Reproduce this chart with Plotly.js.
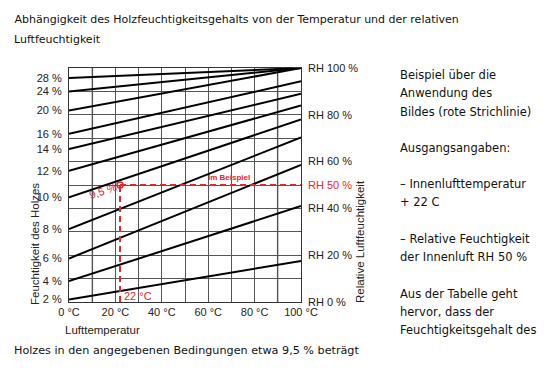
<!DOCTYPE html>
<html>
<head>
<meta charset="utf-8">
<script src="https://cdn.plot.ly/plotly-3.0.1.min.js"></script>
<style>html,body{margin:0;padding:0;background:#fff;}#chart{width:558px;height:380px;}</style>
</head>
<body>
<div id="chart"></div>
<script>
// ---- data ----
const moistureLabels = ['28 %','24 %','20 %','16 %','14 %','12 %','10 %','8 %','6 %','4 %','2 %'];
const tempEnds = [0, 100];
const rhAt0C   = [95.7, 90.0, 81.8, 71.9, 65.4, 56.1, 44.7, 31.2, 18.6, 8.9, 1.1];
const rhAt100C = [100, 100, 100, 94.3, 89.0, 84.0, 78.0, 70.3, 58.6, 41.0, 17.5];
const tempTicks = [0,10,20,30,40,50,60,70,80,90,100];
const tempTickText = ['0 °C','','20 °C','','40 °C','','60 °C','','80 °C','','100 °C'];
const rhTicks = [0,10,20,30,40,50,60,70,80,90,100];
const rhTickText = ['RH 0 %','','RH 20 %','','RH 40 %','<span style="color:#e3262b">RH 50 %</span>','RH 60 %','','RH 80 %','','RH 100 %'];
const exampleTemp = 22, exampleRH = 50, exampleMoisture = '9,5 %';

const RED = '#e3262b';
const FONT = 'Liberation Sans, Arial, sans-serif';
const TFONT = 'DejaVu Sans, Verdana, sans-serif';

const traces = [];
for (let i = 0; i < moistureLabels.length; i++) {
  traces.push({x: tempEnds, y: [rhAt0C[i], rhAt100C[i]], type: 'scatter', mode: 'lines',
    line: {color: '#000', width: 2}, hoverinfo: 'skip', showlegend: false});
}
// example dashed lines
traces.push({x: [exampleTemp, exampleTemp], y: [0, exampleRH], mode: 'lines', type: 'scatter',
  line: {color: RED, width: 2, dash: '6px,4px'}, showlegend: false});
traces.push({x: [exampleTemp, 100], y: [exampleRH, exampleRH], mode: 'lines', type: 'scatter',
  line: {color: RED, width: 2, dash: '6px,4px'}, showlegend: false});
traces.push({x: [exampleTemp], y: [exampleRH], mode: 'markers', type: 'scatter',
  marker: {symbol: 'circle-open', size: 6, color: RED, line: {width: 1.5, color: RED}}, showlegend: false});
// invisible trace for right axis
traces.push({x: [0], y: [0], yaxis: 'y2', mode: 'markers', marker: {opacity: 0}, showlegend: false, hoverinfo: 'skip'});

const L = 69, R = 301, T = 68, B = 302, W = 558, H = 380;
const px = x => (x - L) / (R - L);
const py = y => (B - y) / (B - T);

function txt(text, x, y, opts) {
  return Object.assign({text: text, xref: 'paper', yref: 'paper', x: px(x), y: py(y),
    xanchor: 'left', yanchor: 'middle', showarrow: false,
    font: {family: TFONT, size: 11.5, color: '#111'}}, opts || {});
}

const rightLines = [
  ['Beispiel über die', 75], ['Anwendung des', 93], ['Bildes (rote Strichlinie)', 112],
  ['Ausgangsangaben:', 148], ['– Innenlufttemperatur', 184], ['+ 22 C', 202],
  ['– Relative Feuchtigkeit', 239], ['der Innenluft RH 50 %', 257],
  ['Aus der Tabelle geht', 294], ['hervor, dass der', 312], ['Feuchtigkeitsgehalt des', 330]
];

const annotations = [];
annotations.push(txt('Luftfeuchtigkeit', 11.5, 39, {font: {family: TFONT, size: 11, color: '#111'}}));
rightLines.forEach(l => annotations.push(txt(l[0], 397.5, l[1])));
annotations.push(txt('Holzes in den angegebenen Bedingungen etwa 9,5 % beträgt', 11.5, 350,
  {font: {family: TFONT, size: 11.2, color: '#111'}}));
annotations.push(txt('Lufttemperatur', 63, 330, {font: {family: FONT, size: 11.5, color: '#222'}}));
annotations.push(txt('Feuchtigkeit des Holzes', 35, 244, {xanchor: 'center', textangle: -90,
  font: {family: FONT, size: 11.5, color: '#222'}}));
annotations.push(txt('Relative Luftfeuchtigkeit', 360, 242, {xanchor: 'center', textangle: -90,
  font: {family: FONT, size: 11.5, color: '#222'}}));
// red example labels (data coords)
annotations.push({text: exampleMoisture, xref: 'x', yref: 'y', x: 14.5, y: 47.3, showarrow: false,
  textangle: -18, font: {family: FONT, size: 11, color: RED}});
annotations.push({text: '22 °C', xref: 'x', yref: 'y', x: 22.8, y: 2.5, xanchor: 'left', showarrow: false,
  font: {family: FONT, size: 11, color: RED}});
annotations.push({text: '<b>Im Beispiel</b>', xref: 'x', yref: 'y', x: 69, y: 53, showarrow: false,
  font: {family: FONT, size: 8, color: RED}});

const shapes = [10, 90].map(v => ({type: 'line', xref: 'x', yref: 'paper', x0: v, x1: v, y0: 0, y1: 1,
  line: {color: '#b5b5b5', width: 2}, layer: 'below'}));

const layout = {
  width: W, height: H, autosize: false,
  margin: {l: L, r: W - R, t: T, b: H - B, pad: 0},
  paper_bgcolor: '#fff', plot_bgcolor: '#fff',
  title: {text: 'Abhängigkeit des Holzfeuchtigkeitsgehalts von der Temperatur und der relativen',
    x: 14.5 / W, xanchor: 'left', xref: 'container', y: 1 - 19 / H, yanchor: 'middle', yref: 'container',
    font: {family: TFONT, size: 11, color: '#111'}},
  xaxis: {range: [0, 100], tickvals: tempTicks, ticktext: tempTickText, showgrid: true,
    gridcolor: '#555', gridwidth: 1, showline: true, linecolor: '#333', linewidth: 1, mirror: true,
    ticks: '', zeroline: false, tickfont: {family: FONT, size: 11, color: '#222'}, fixedrange: true},
  yaxis: {range: [0, 100], tickvals: rhAt0C, ticktext: moistureLabels, showgrid: false,
    showline: true, linecolor: '#333', linewidth: 1, mirror: true, ticks: '', zeroline: false,
    tickfont: {family: FONT, size: 11, color: '#222'}, ticklabelstandoff: 4},
  yaxis2: {range: [0, 100], overlaying: 'y', side: 'right', tickvals: rhTicks, ticktext: rhTickText,
    showgrid: true, gridcolor: '#555', gridwidth: 1, zeroline: false, ticks: '', showline: false,
    tickfont: {family: FONT, size: 11, color: '#222'}, ticklabelstandoff: 6},
  shapes: shapes,
  annotations: annotations,
  showlegend: false
};

Plotly.newPlot('chart', traces, layout, {displayModeBar: false, staticPlot: true});
</script>
</body>
</html>
